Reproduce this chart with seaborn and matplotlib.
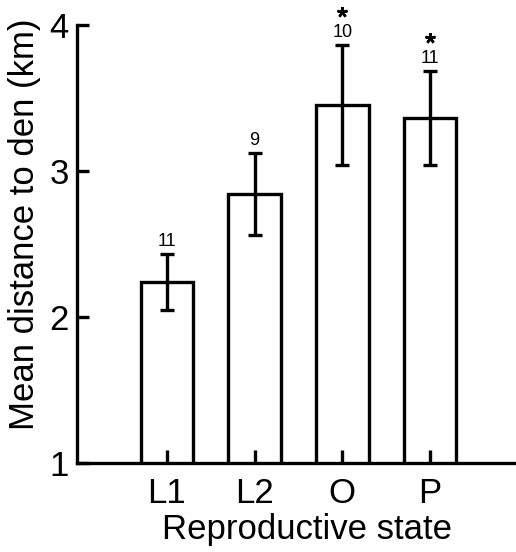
import matplotlib
matplotlib.use("Agg")
import matplotlib.pyplot as plt
import matplotlib.transforms as mtransforms
import seaborn as sns
import pandas as pd

# Data
states = ["L1", "L2", "O", "P"]
mean_km = [2.24, 2.84, 3.45, 3.36]
err_km = [0.19, 0.28, 0.41, 0.32]
n_labels = ["11", "9", "10", "11"]
significant = [False, False, True, True]
y_ticks = [1, 2, 3, 4]

sns.set_style("ticks")
lw = 2.4
plt.rcParams.update({
    "font.family": ["Liberation Sans", "DejaVu Sans"],
    "text.color": "black",
    "axes.labelcolor": "black",
    "xtick.direction": "in",
    "ytick.direction": "in",
    "xtick.major.size": 9.4,
    "ytick.major.size": 8.6,
    "xtick.major.width": lw,
    "ytick.major.width": lw,
    "xtick.color": "black",
    "ytick.color": "black",
    "axes.axisbelow": False,
})

df = pd.DataFrame({"state": states, "mean": mean_km, "err": err_km})

fig = plt.figure(figsize=(5.16, 5.52), dpi=100)
ax = fig.add_axes([77 / 516, 1 - 463 / 552, 1 - 77 / 516, (463 - 24.5) / 552])

sns.barplot(data=df, x="state", y="mean", order=states, errorbar=None,
            color="white", edgecolor="black", linewidth=lw, width=0.6, ax=ax,
            zorder=2)

xs = list(range(len(states)))
ax.errorbar(xs, df["mean"], yerr=df["err"], fmt="none", ecolor="black",
            elinewidth=lw, capsize=4.7, capthick=lw, zorder=3)

star_tr = mtransforms.offset_copy(ax.transData, fig=fig, x=0, y=33, units="dots")
for x, m, e, n, sig in zip(xs, mean_km, err_km, n_labels, significant):
    ax.annotate(n, xy=(x, m + e), xytext=(0, 8), textcoords="offset pixels",
                ha="center", va="baseline", fontsize=13, color="black")
    if sig:
        ax.plot([x], [m + e], marker=(5, 2, 0), markersize=7.5, mew=1.8,
                color="black", transform=star_tr, clip_on=False, zorder=5)

ax.set_ylim(1, 4)
ax.set_xlim(-1.026, 3.98)
ax.set_yticks(y_ticks)
ax.set_yticklabels([str(t) for t in y_ticks])
ax.set_axisbelow(False)

for side in ["top", "right"]:
    ax.spines[side].set_visible(False)
for side in ["left", "bottom"]:
    ax.spines[side].set_linewidth(lw)
    ax.spines[side].set_color("black")
    ax.spines[side].set_zorder(4)

ax.tick_params(axis="both", which="major", direction="in")
ax.tick_params(axis="y", length=8.6, width=lw, pad=6, labelsize=25, colors="black")
ax.tick_params(axis="x", length=9.4, width=lw, pad=10, labelsize=25, colors="black",
               bottom=True)

ax.set_xlabel("Reproductive state", fontsize=25)
ax.xaxis.set_label_coords(0.523, -0.113)
ax.set_ylabel("Mean distance to den (km)", fontsize=25)
ax.yaxis.set_label_coords(-0.083, 0.544)

fig.savefig("out.png", dpi=100)
